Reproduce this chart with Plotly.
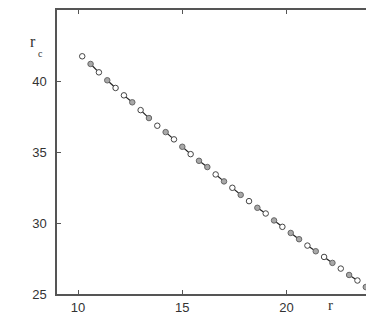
import plotly.graph_objects as go

# Data
r_vals = [10.2, 10.6, 11.0, 11.4, 11.8, 12.2, 12.6, 13.0, 13.4, 13.8, 14.2, 14.6,
          15.0, 15.4, 15.8, 16.2, 16.6, 17.0, 17.4, 17.8, 18.2, 18.6, 19.0, 19.4,
          19.8, 20.2, 20.6, 21.0, 21.4, 21.8, 22.2, 22.6, 23.0, 23.4, 23.8]
rc_vals = [41.74, 41.20, 40.61, 40.05, 39.51, 38.99, 38.50, 37.95, 37.39, 36.85,
           36.40, 35.89, 35.37, 34.85, 34.38, 33.94, 33.42, 32.93, 32.48, 31.98,
           31.54, 31.07, 30.67, 30.18, 29.73, 29.30, 28.86, 28.41, 28.01, 27.61,
           27.19, 26.79, 26.34, 25.95, 25.49]
# 1 = grey filled marker, 0 = open marker
filled = [0, 1, 0, 1, 0, 0, 1, 0, 1, 0, 1, 0, 1, 0, 1, 1, 0, 1, 0, 1,
          0, 1, 0, 1, 0, 1, 1, 0, 1, 0, 1, 0, 1, 0, 1]
# 1 = point joined to the next point by a short segment
linked = [0, 1, 0, 1, 0, 1, 0, 1, 0, 0, 1, 0, 1, 0, 1, 0, 1, 0, 1, 0,
          0, 1, 0, 1, 0, 1, 0, 1, 0, 1, 0, 0, 1, 0, 0]
x_ticks = [10, 15, 20]
y_ticks = [25, 30, 35, 40]

seg_x, seg_y = [], []
for i in range(len(r_vals) - 1):
    if linked[i]:
        seg_x += [r_vals[i], r_vals[i + 1], None]
        seg_y += [rc_vals[i], rc_vals[i + 1], None]

fig = go.Figure()
fig.add_trace(go.Scatter(x=seg_x, y=seg_y, mode="lines",
                         line=dict(color="#222222", width=1.2),
                         hoverinfo="skip", showlegend=False))
ox = [x for x, f in zip(r_vals, filled) if not f]
oy = [y for y, f in zip(rc_vals, filled) if not f]
gx = [x for x, f in zip(r_vals, filled) if f]
gy = [y for y, f in zip(rc_vals, filled) if f]
fig.add_trace(go.Scatter(x=ox, y=oy, mode="markers",
                         marker=dict(symbol="circle", size=5.5, color="white",
                                     line=dict(color="#444444", width=1.0)),
                         showlegend=False))
fig.add_trace(go.Scatter(x=gx, y=gy, mode="markers",
                         marker=dict(symbol="circle", size=5.5, color="#a8a8a8",
                                     line=dict(color="#666666", width=1.0)),
                         showlegend=False))

font = dict(family="Liberation Sans, Arial, sans-serif", size=13, color="#333333")
fig.update_layout(
    width=366, height=314,
    margin=dict(l=57, r=0, t=10, b=20, autoexpand=False),
    paper_bgcolor="white", plot_bgcolor="white",
    font=font,
    xaxis=dict(range=[8.99, 23.81], tickvals=x_ticks, ticks="inside", ticklen=4,
               tickcolor="#555555", showline=True, linecolor="#555555", linewidth=1.5,
               mirror="ticks", showgrid=False, zeroline=False, ticklabelstandoff=1,
               automargin=False),
    yaxis=dict(range=[25, 45], tickvals=y_ticks, ticks="inside", ticklen=4,
               tickcolor="#555555", showline=True, linecolor="#555555", linewidth=1.5,
               mirror=False, showgrid=False, zeroline=False, ticklabelstandoff=6,
               automargin=False),
    annotations=[
        dict(text="r", x=33, y=42, xref="paper", yref="paper", showarrow=False,
             font=dict(family="Liberation Serif, serif", size=16, color="#333333")),
        dict(text="c", x=40, y=53, xref="paper", yref="paper", showarrow=False,
             font=dict(family="Liberation Serif, serif", size=10, color="#333333")),
        dict(text="r", x=330, y=305, xref="paper", yref="paper", showarrow=False,
             font=dict(family="Liberation Serif, serif", size=15, color="#333333")),
    ],
)

# convert annotation pixel positions to paper coords
W, H = 366, 314
pw, ph = W - 57, H - 10 - 20
new_ann = []
for a in fig.layout.annotations:
    px, py = a.x, a.y
    a.x = (px - 57) / pw
    a.y = (H - 20 - py) / ph
    a.xanchor = "center"
    a.yanchor = "middle"
    new_ann.append(a)
fig.layout.annotations = new_ann

fig.write_html("out.html")
